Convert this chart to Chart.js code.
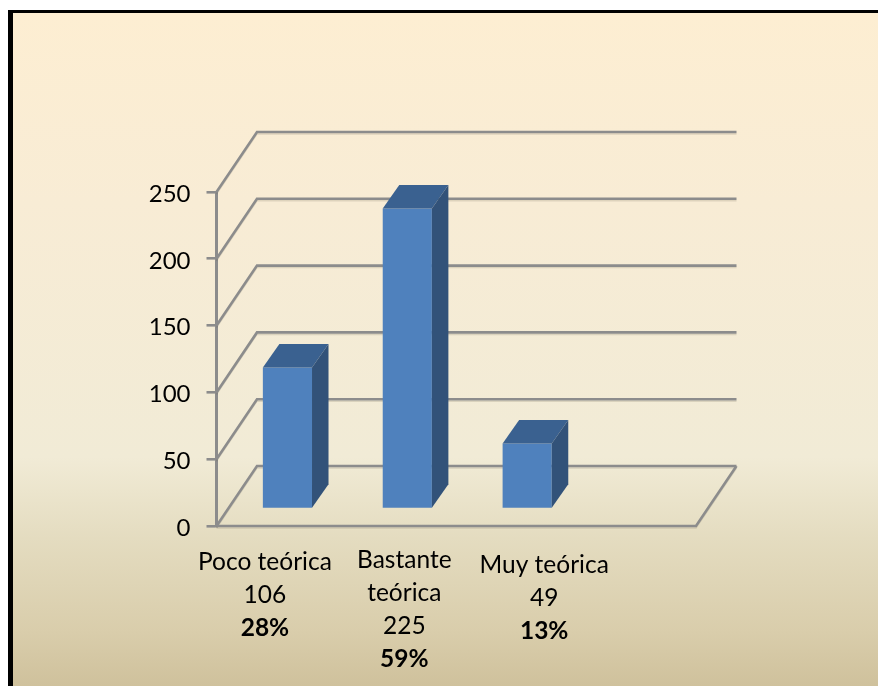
<!DOCTYPE html>
<html>
<head>
<meta charset="utf-8">
<title>Chart</title>
<script src="https://cdn.jsdelivr.net/npm/chart.js@4"></script>
<style>
html,body{margin:0;padding:0;background:#fff;overflow:hidden;}
#frame{
position:absolute;left:8px;top:10px;width:865px;height:673px;
border-left:5px solid #000;border-top:3px solid #000;
background:linear-gradient(to bottom,#fdeed2 0%,#f8ecd5 28%,#f1ebd6 66%,#e4dcc0 78%,#d9cdab 92%,#cfc19c 100%);
}
canvas{position:absolute;left:0;top:0;}
</style>
</head>
<body>
<div id="frame"></div>
<canvas id="chart" width="878" height="686"></canvas>
<script>
const categories=['Poco teórica','Bastante teórica','Muy teórica',''];
const values=[106,225,49,null];
const percents=['28%','59%','13%'];
const yMax=250;
const yStep=50;

const labelLines=[
[categories[0],String(values[0]),percents[0]],
['Bastante','teórica',String(values[1]),percents[1]],
[categories[2],String(values[2]),percents[2]]
];

const font='Lato';
const gridColor='#8c8c8c';

// depth of the back wall and of the bar plane
const wallDx=40.5, wallDy=60;
const barDx=11, barDy=17;
const sideDx=16.5, sideDy=23.5;

// hand placed labels, as in the original
const labelShift=[-11.5,8,28];
const labelTop=[562,560,565];
const labelStep=33;

function wallPath(c,y,a,off){
c.beginPath();
y.ticks.forEach(t=>{
const py=y.getPixelForValue(t.value)+off;
c.moveTo(a.left,py);
c.lineTo(a.left+wallDx,py-wallDy);
c.lineTo(a.right+wallDx,py-wallDy);
});
c.moveTo(a.left,a.bottom+off);
c.lineTo(a.right,a.bottom+off);
c.lineTo(a.right+wallDx,a.bottom+off-wallDy);
c.stroke();
}

const gridPlugin={
id:'walls',
beforeDatasetsDraw(chart){
const c=chart.ctx, y=chart.scales.y, a=chart.chartArea;
c.save();
c.lineWidth=1.5;
c.strokeStyle='rgba(90,80,60,0.16)';
wallPath(c,y,a,2);
c.lineWidth=2.6;
c.strokeStyle=gridColor;
wallPath(c,y,a,0);
c.restore();
}
};

const barPlugin={
id:'bars3d',
beforeDatasetsDraw(chart){
chart.ctx.save();
chart.ctx.translate(barDx,-barDy);
},
afterDatasetsDraw(chart){
const c=chart.ctx;
chart.getDatasetMeta(0).data.forEach((bar,i)=>{
if(values[i]==null) return;
const l=bar.x-bar.width/2, r=bar.x+bar.width/2;
c.fillStyle='#3a6190';
c.beginPath();
c.moveTo(l,bar.y);
c.lineTo(l+sideDx,bar.y-sideDy);
c.lineTo(r+sideDx,bar.y-sideDy);
c.lineTo(r,bar.y);
c.closePath();
c.fill();
c.fillStyle='#325279';
c.beginPath();
c.moveTo(r,bar.y);
c.lineTo(r+sideDx,bar.y-sideDy);
c.lineTo(r+sideDx,bar.base-sideDy);
c.lineTo(r,bar.base);
c.closePath();
c.fill();
});
c.restore();
}
};

const labelPlugin={
id:'xLabels',
afterDraw(chart){
const c=chart.ctx, x=chart.scales.x;
c.save();
c.fillStyle='#000';
c.textAlign='center';
c.textBaseline='middle';
labelLines.forEach((lines,i)=>{
const px=x.getPixelForValue(i)+labelShift[i];
lines.forEach((txt,j)=>{
const last=j==lines.length-1;
c.font=(last?'bold ':'')+'24.5px '+font;
c.fillText(txt,px,labelTop[i]+j*labelStep);
});
});
c.restore();
}
};

new Chart(document.getElementById('chart'),{
type:'bar',
data:{
labels:categories,
datasets:[{
data:values,
backgroundColor:'#4f81bd',
borderWidth:0,
barPercentage:0.41,
categoryPercentage:1,
clip:false
}]
},
options:{
responsive:false,
animation:false,
devicePixelRatio:1,
layout:{padding:{left:0,top:192,right:182,bottom:160}},
plugins:{legend:{display:false},tooltip:{enabled:false}},
scales:{
x:{
grid:{display:false},
border:{display:false},
ticks:{display:false},
afterFit(s){s.height=0;}
},
y:{
min:0,
max:yMax,
afterFit(s){s.width=216.5;},
grid:{drawOnChartArea:false,color:gridColor,lineWidth:2.6,tickLength:10},
border:{color:gridColor,width:3},
ticks:{stepSize:yStep,color:'#000',padding:16,labelOffset:2,font:{family:font,size:24}}
}
}
},
plugins:[gridPlugin,barPlugin,labelPlugin]
});
</script>
</body>
</html>
